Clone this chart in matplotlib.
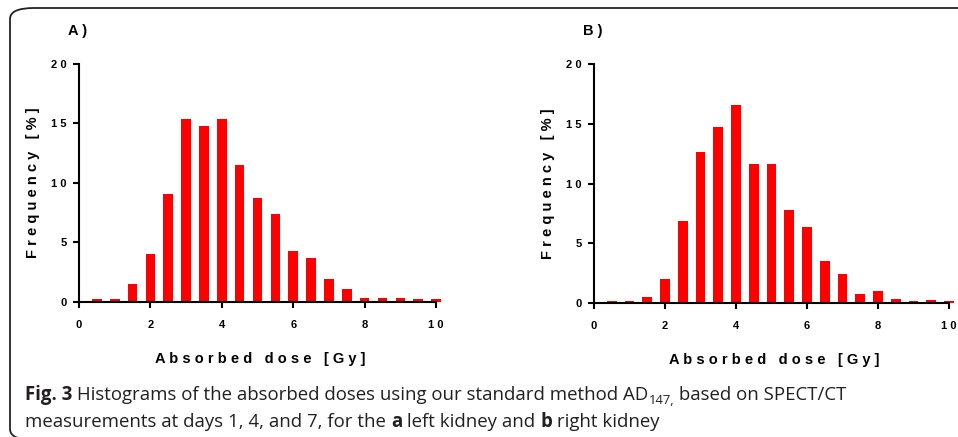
import matplotlib
matplotlib.use("Agg")
import matplotlib.pyplot as plt
from matplotlib.patches import FancyBboxPatch

# dose bins (Gy) and frequencies (%)
dose = [0.5, 1.0, 1.5, 2.0, 2.5, 3.0, 3.5, 4.0, 4.5, 5.0,
        5.5, 6.0, 6.5, 7.0, 7.5, 8.0, 8.5, 9.0, 9.5, 10.0]
freq_left = [0.2, 0.2, 1.45, 4.0, 9.1, 15.4, 14.75, 15.4, 11.5, 8.7,
             7.4, 4.3, 3.65, 1.95, 1.05, 0.28, 0.28, 0.28, 0.2, 0.2]
freq_right = [0.17, 0.17, 0.5, 2.05, 6.9, 12.65, 14.75, 16.6, 11.6, 11.6,
              7.8, 6.35, 3.5, 2.45, 0.75, 1.0, 0.33, 0.17, 0.22, 0.17]

xticks = [0, 2, 4, 6, 8, 10]
xticklabels = ["0", "2", "4", "6", "8", "1 0"]
yticks = [0, 5, 10, 15, 20]
yticklabels = ["0", "5", "1 0", "1 5", "2 0"]

# caption split in runs: (text, weight, is_subscript)
caption1 = [("Fig. 3", "bold", False),
            (" Histograms of the absorbed doses using our standard method AD", "normal", False),
            ("147,", "normal", True),
            (" based on SPECT/CT", "normal", False)]
caption2 = [("measurements at days 1, 4, and 7, for the ", "normal", False),
            ("a", "bold", False),
            (" left kidney and ", "normal", False),
            ("b", "bold", False),
            (" right kidney", "normal", False)]

W, H = 958, 437
fig = plt.figure(figsize=(W / 100, H / 100), dpi=100)

# rounded frame around the figure (cut by the image edge)
frame = FancyBboxPatch((10 / W, 1 - 440 / H), 980 / W, 432 / H,
                       boxstyle="round,pad=0,rounding_size=0.025",
                       transform=fig.transFigure, fill=False,
                       edgecolor="#222222", linewidth=1.3)
fig.patches.append(frame)

bold = dict(family="Liberation Sans", weight="bold")


def panel(rect, freq, tag, tagx):
	ax = fig.add_axes(rect)
	ax.bar(dose, freq, width=0.27, color="#ff0000", edgecolor="none")
	ax.set_xlim(0, 10.15)
	ax.set_ylim(0, 20)
	for s in ("top", "right"):
		ax.spines[s].set_visible(False)
	for s in ("left", "bottom"):
		ax.spines[s].set_linewidth(1.5)
	ax.spines["bottom"].set_bounds(0, 10)
	ax.set_xticks(xticks)
	ax.set_xticklabels(xticklabels, fontsize=8, **bold)
	ax.set_yticks(yticks)
	ax.set_yticklabels(yticklabels, fontsize=8, **bold)
	ax.tick_params(width=1.5, length=4, pad=9)
	ax.tick_params(axis="y", pad=5)
	ax.set_xlabel("A b s o r b e d   d o s e   [ G y ]", fontsize=10.5,
				  labelpad=16, **bold)
	ax.set_ylabel("F r e q u e n c y   [ % ]", fontsize=10.5, labelpad=8, **bold)
	fig.text(tagx / W, 1 - 31 / H, tag, fontsize=10.5, va="center", **bold)
	return ax


panel([79 / W, 135.3 / H, 362.4 / W, 237.7 / H], freq_left, "A )", 68)
panel([594 / W, 134 / H, 360.3 / W, 239 / H], freq_right, "B )", 583)

renderer = fig.canvas.get_renderer()


def caption_line(runs, x0, ybase, size):
	x = x0
	for txt, weight, sub in runs:
		fs = size * 0.7 if sub else size
		y = ybase + (4 if sub else 0)
		t = fig.text(x / W, 1 - y / H, txt, family="Open Sans", weight=weight,
		             fontsize=fs, color="#231f20", va="baseline")
		bb = t.get_window_extent(renderer)
		x += bb.width


caption_line(caption1, 25, 400, 13.4)
caption_line(caption2, 25, 427, 13.4)

fig.savefig("out.png", dpi=100)
